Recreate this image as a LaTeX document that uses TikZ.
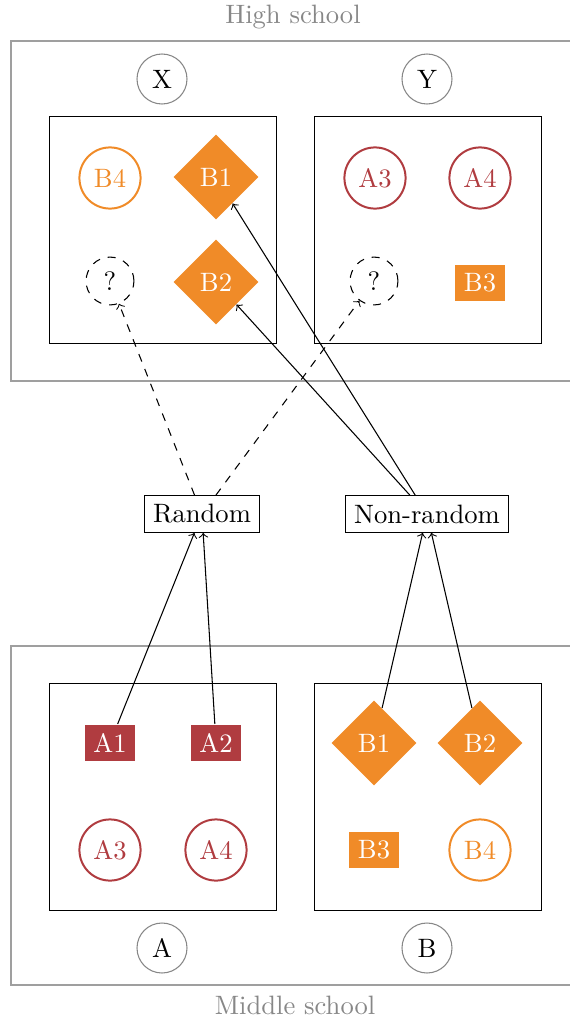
\documentclass[tikz,border=0pt]{standalone}
\usetikzlibrary{shapes.geometric}
\definecolor{cred}{RGB}{176,60,64}
\definecolor{corange}{RGB}{240,139,40}
\definecolor{cgray}{RGB}{135,135,135}
\tikzset{
  redsq/.style={rectangle, fill=cred, text=white, minimum width=18.8pt, minimum height=13.9pt, inner sep=0pt},
  orsq/.style={rectangle, fill=corange, text=white, minimum width=18.8pt, minimum height=13.9pt, inner sep=0pt},
  redcirc/.style={circle, draw=cred, line width=0.75pt, text=cred, minimum size=23pt, inner sep=0pt},
  orcirc/.style={circle, draw=corange, line width=0.75pt, text=corange, minimum size=23pt, inner sep=0pt},
  ordia/.style={diamond, fill=corange, text=white, minimum size=32pt, inner sep=0pt},
  qcirc/.style={circle, draw, dashed, minimum size=18pt, inner sep=0pt},
  labcirc/.style={circle, draw=cgray, line width=0.4pt, minimum size=18.8pt, inner sep=0pt},
  group/.style={draw=black, line width=0.3pt},
  outer/.style={draw=cgray!80, line width=0.6pt},
  method/.style={rectangle, draw, line width=0.4pt},
  link/.style={->, line width=0.4pt},
  schoollabel/.style={text=cgray}
}
\begin{document}
\begin{tikzpicture}[x=0.376pt, y=-0.376pt]
\clip (0,0) rectangle (570,1021);
% High school
\node[schoollabel] (hs) at (293,17) {High school};
\draw[outer] (11,41) rectangle (600,381);
\node[labcirc] (X) at (162,79) {X};
\node[labcirc] (Y) at (427,79) {Y};
\draw[group] (49,116) rectangle (276,343);
\draw[group] (314,116) rectangle (541,343);
\node[orcirc] (xB4) at (110,178) {B4};
\node[ordia] (xB1) at (216,177) {B1};
\node[qcirc] (xQ) at (110,281) {?};
\node[ordia] (xB2) at (216,282) {B2};
\node[redcirc] (yA3) at (375,178) {A3};
\node[redcirc] (yA4) at (480,178) {A4};
\node[qcirc] (yQ) at (374,281) {?};
\node[orsq] (yB3) at (480,283) {B3};
% Methods
\node[method] (rand) at (202,514) {Random};
\node[method] (nonrand) at (427,514) {Non-random};
% Middle school
\draw[outer] (11,646) rectangle (600,985);
\draw[group] (49,683) rectangle (276,910);
\draw[group] (314,683) rectangle (541,910);
\node[redsq] (aA1) at (110,743) {A1};
\node[redsq] (aA2) at (216,743) {A2};
\node[redcirc] (aA3) at (110,850) {A3};
\node[redcirc] (aA4) at (216,850) {A4};
\node[ordia] (bB1) at (374,743) {B1};
\node[ordia] (bB2) at (480,743) {B2};
\node[orsq] (bB3) at (374,850) {B3};
\node[orcirc] (bB4) at (480,850) {B4};
\node[labcirc] (A) at (162,948) {A};
\node[labcirc] (B) at (427,948) {B};
\node[schoollabel] (ms) at (295,1005) {Middle school};
% Connectors
\draw[link] (aA1) -- (rand);
\draw[link] (aA2) -- (rand);
\draw[link] (bB1) -- (nonrand);
\draw[link] (bB2) -- (nonrand);
\draw[link, dashed] (rand) -- (xQ);
\draw[link, dashed] (rand) -- (yQ);
\draw[link] (nonrand) -- (xB1);
\draw[link] (nonrand) -- (xB2);
\end{tikzpicture}
\end{document}
